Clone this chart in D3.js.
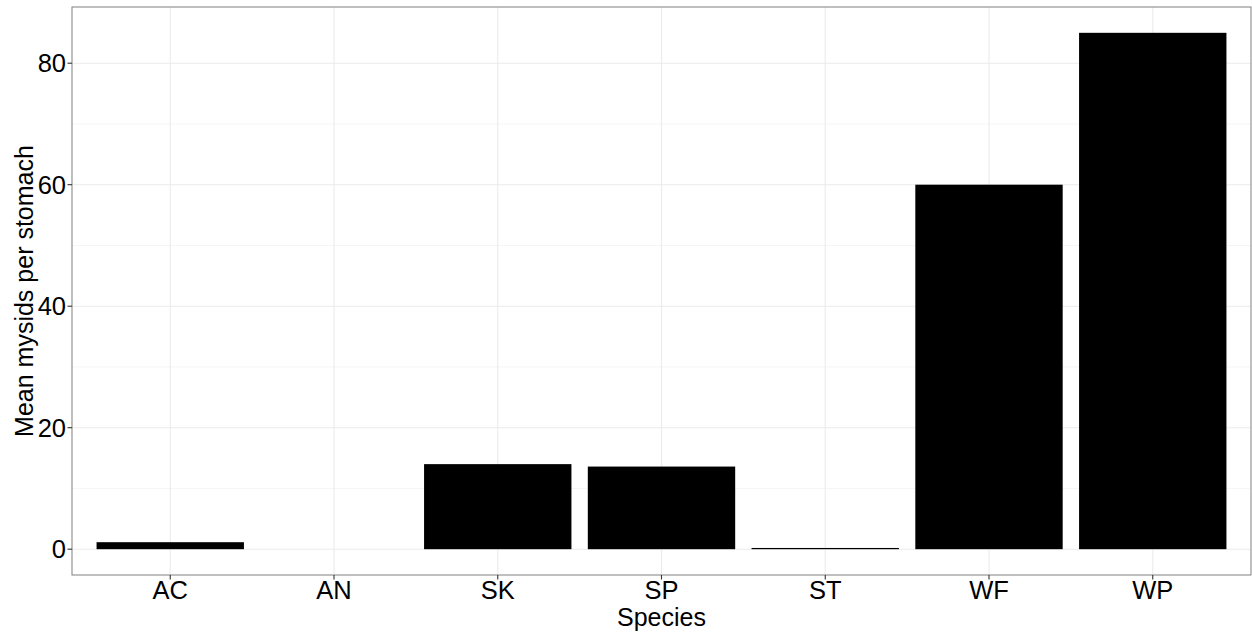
<!DOCTYPE html>
<html><head><meta charset="utf-8">
<script src="https://cdn.jsdelivr.net/npm/d3@7"></script>
<style>body{margin:0;background:#fff;} text{font-family:"Liberation Sans",Arial,sans-serif;}</style>
</head><body>
<svg id="chart" width="1252" height="637"></svg>
<script>
const categories = ["AC","AN","SK","SP","ST","WF","WP"];
const values = [1.15, 0, 14.0, 13.6, 0.2, 60.0, 85.0];
const yTicks = [0, 20, 40, 60, 80];
const yMinor = [10, 30, 50, 70];

const svg = d3.select("#chart");
const L = 72, R = 1251, T = 7, B = 575;

// ggplot-like discrete scale: expand 0.6 units each side, bar width 0.9
const x = d3.scalePoint().domain(categories).range([L, R]).padding(0.6);
const step = x.step();
const bw = step * 0.9;

const y = d3.scaleLinear().domain([-4.25, 89.25]).range([B, T]);

const g = svg.append("g");
g.selectAll(".ymin").data(yMinor).join("line")
  .attr("x1", L).attr("x2", R).attr("y1", d => y(d)).attr("y2", d => y(d))
  .attr("stroke", "#f3f3f3").attr("stroke-width", 0.8);
g.selectAll(".ymaj").data(yTicks).join("line")
  .attr("x1", L).attr("x2", R).attr("y1", d => y(d)).attr("y2", d => y(d))
  .attr("stroke", "#ebebeb").attr("stroke-width", 1.1);
g.selectAll(".xmaj").data(categories).join("line")
  .attr("x1", d => x(d)).attr("x2", d => x(d)).attr("y1", T).attr("y2", B)
  .attr("stroke", "#ebebeb").attr("stroke-width", 1.1);

g.selectAll(".bar").data(categories.map((c, i) => ({c, v: values[i]}))).join("rect")
  .attr("x", d => x(d.c) - bw / 2).attr("width", bw)
  .attr("y", d => y(Math.max(0, d.v))).attr("height", d => Math.abs(y(0) - y(d.v)))
  .attr("fill", "#000");

svg.append("rect").attr("x", L).attr("y", T).attr("width", R - L).attr("height", B - T)
  .attr("fill", "none").attr("stroke", "#8a8a8a").attr("stroke-width", 1.1);

const ya = svg.append("g");
ya.selectAll("line").data(yTicks).join("line")
  .attr("x1", L - 4.5).attr("x2", L).attr("y1", d => y(d)).attr("y2", d => y(d))
  .attr("stroke", "#333").attr("stroke-width", 1.1);
ya.selectAll("text").data(yTicks).join("text")
  .attr("x", L - 6).attr("y", d => y(d)).attr("dy", "0.36em")
  .attr("text-anchor", "end").attr("font-size", 25.5).attr("fill", "#000").text(d => d);

const xa = svg.append("g");
xa.selectAll("line").data(categories).join("line")
  .attr("x1", d => x(d)).attr("x2", d => x(d)).attr("y1", B).attr("y2", B + 4.5)
  .attr("stroke", "#333").attr("stroke-width", 1.1);
xa.selectAll("text").data(categories).join("text")
  .attr("x", d => x(d)).attr("y", 599.3)
  .attr("text-anchor", "middle").attr("font-size", 25.5).attr("fill", "#000").text(d => d);

svg.append("text").attr("x", (L + R) / 2).attr("y", 625.7).attr("text-anchor", "middle")
  .attr("font-size", 25).attr("fill", "#000").text("Species");
svg.append("text").attr("transform", `translate(33,${(T + B) / 2}) rotate(-90)`)
  .attr("text-anchor", "middle").attr("font-size", 25).attr("fill", "#000").text("Mean mysids per stomach");
</script>
</body></html>
